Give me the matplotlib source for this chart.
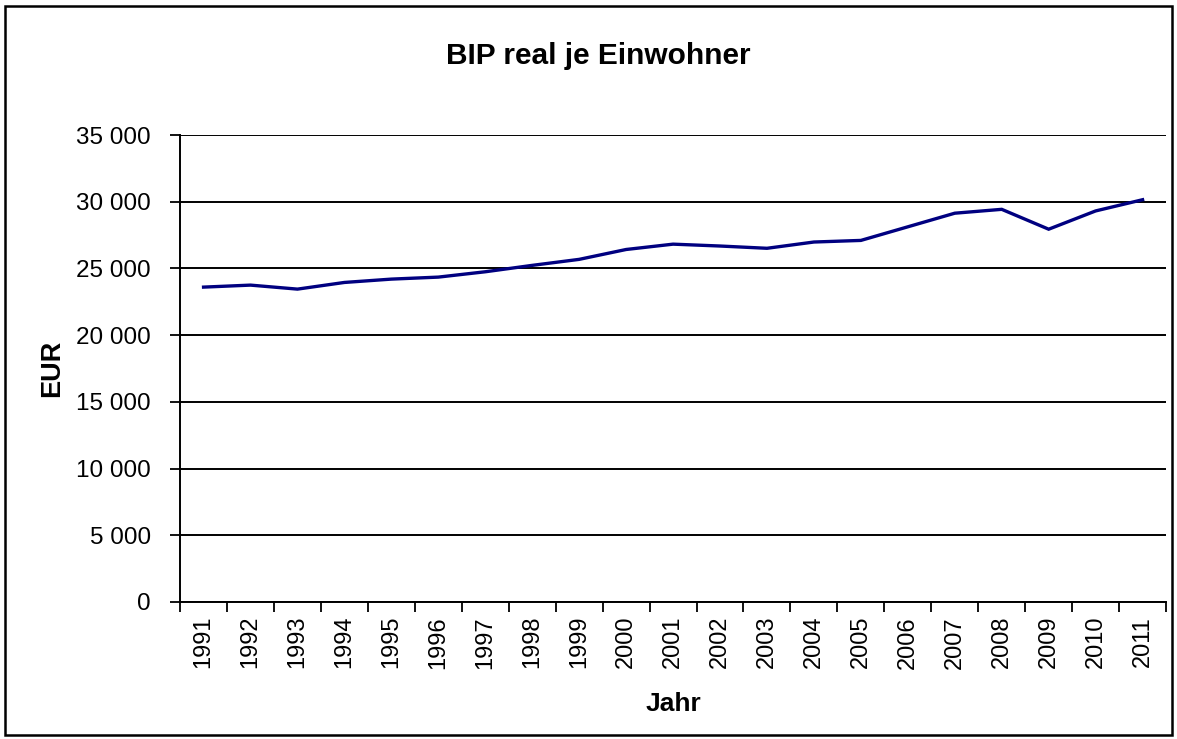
import matplotlib.pyplot as plt
from matplotlib.patches import Rectangle
from matplotlib.ticker import FuncFormatter, FixedLocator

plt.rcParams['font.family'] = ['Liberation Sans', 'DejaVu Sans']

years = [str(y) for y in range(1991, 2012)]
bip = [23600, 23750, 23450, 23950, 24200, 24350, 24750, 25230, 25680,
       26420, 26820, 26680, 26510, 26980, 27100, 28120, 29140, 29430,
       27940, 29310, 30150]

fig = plt.figure(figsize=(11.77, 7.39), dpi=100)
ax = fig.add_axes([0.153, 0.1854, 0.8377, 0.6319])

x = list(range(len(years)))
ax.plot(x, bip, color='#000080', lw=2.4, solid_joinstyle='miter')

ax.set_xlim(-0.5, len(years) - 0.5)
ax.set_ylim(0, 35000)
ax.set_yticks(range(0, 35001, 5000))
ax.yaxis.set_major_formatter(FuncFormatter(lambda v, p: f"{int(v):,}".replace(",", " ")))
ax.grid(axis='y', color='black', lw=1.4)
ax.set_axisbelow(True)

# Kategorien-Achse: Striche zwischen den Jahren, Beschriftung mittig
ax.xaxis.set_major_locator(FixedLocator([i - 0.5 for i in range(len(years) + 1)]))
ax.xaxis.set_minor_locator(FixedLocator(x))
ax.set_xticklabels([])
ax.set_xticklabels(years, minor=True, rotation=90, fontsize=17)
ax.tick_params(axis='x', which='major', length=7, width=1.3, direction='out')
ax.tick_params(axis='x', which='minor', length=0, pad=10)
ax.tick_params(axis='y', length=7, width=1.3, labelsize=17.5, pad=14)

for s in ['top', 'right']:
    ax.spines[s].set_visible(False)
for s in ['left', 'bottom']:
    ax.spines[s].set_linewidth(1.4)
    ax.spines[s].set_color('black')

fig.text(0.508, 0.924, 'BIP real je Einwohner', ha='center', va='center',
         fontsize=21.5, fontweight='bold')
ax.set_xlabel('Jahr', fontsize=19, fontweight='bold', labelpad=17)
ax.set_ylabel('EUR', fontsize=19.5, fontweight='bold')
ax.yaxis.set_label_coords(-0.117, 0.5)

fig.patches.append(Rectangle((5 / 1177, 4 / 739), 1 - 10 / 1177, 1 - 10 / 739,
                             transform=fig.transFigure, fill=False,
                             edgecolor='black', lw=1.8))

fig.savefig('out.png', dpi=100)
